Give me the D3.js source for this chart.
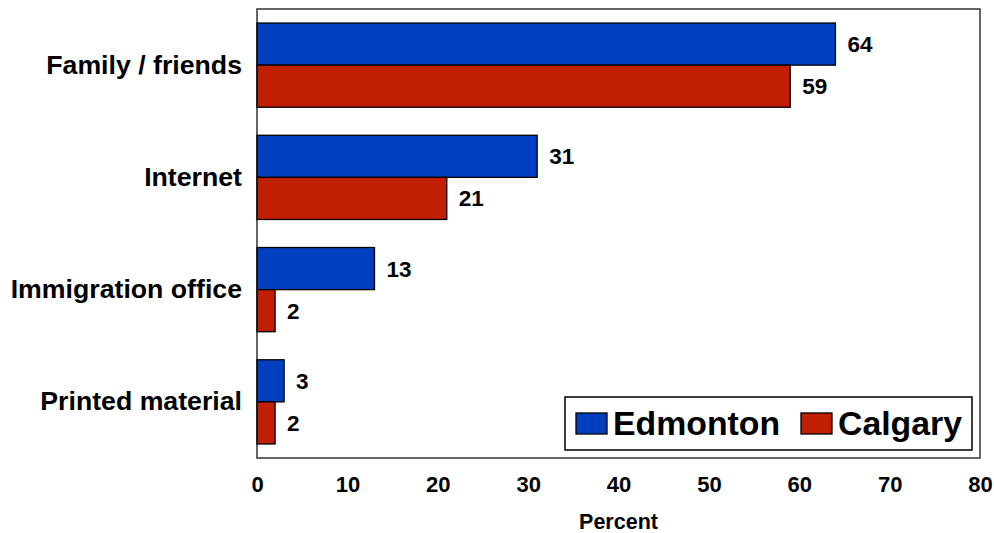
<!DOCTYPE html>
<html><head><meta charset="utf-8">
<script src="https://cdn.jsdelivr.net/npm/d3@7"></script>
<style>body{margin:0;background:#fff}svg{display:block}text{font-family:"Liberation Sans",Arial,sans-serif;font-weight:bold;fill:#000}</style>
</head><body><svg id="c" width="994" height="533"></svg>
<script>
const categories = ["Family / friends","Internet","Immigration office","Printed material"];
const seriesNames = ["Edmonton","Calgary"];
const edmonton = [64,31,13,3];
const calgary = [59,21,2,2];
const xTicks = [0,10,20,30,40,50,60,70,80];
const colors = ["#0040C0","#C02000"];

const svg = d3.select("#c");
const L=257,R=980,T=9,B=458;
const x = d3.scaleLinear().domain([0,80]).range([L,R]);
const y = d3.scaleBand().domain(categories).range([T,B]).paddingInner(0.25).paddingOuter(0.125);
const ys = d3.scaleBand().domain(seriesNames).range([0,y.bandwidth()]);
const data = [edmonton,calgary];

svg.append("rect").attr("x",L).attr("y",T).attr("width",R-L).attr("height",B-T)
  .attr("fill","none").attr("stroke","#333").attr("stroke-width",1.5);

seriesNames.forEach((s,si)=>{
  const g = svg.append("g");
  g.selectAll("rect").data(categories).join("rect")
    .attr("x",x(0)).attr("y",(c)=>y(c)+ys(s))
    .attr("width",(c,i)=>x(data[si][i])-x(0)).attr("height",ys.bandwidth())
    .attr("fill",colors[si]).attr("stroke","#000").attr("stroke-width",1.3);
  g.selectAll("text").data(categories).join("text")
    .attr("x",(c,i)=>x(data[si][i])+12).attr("y",(c)=>y(c)+ys(s)+ys.bandwidth()/2+8)
    .attr("font-size",22.5).text((c,i)=>data[si][i]);
});

// category labels
svg.append("g").selectAll("text").data(categories).join("text")
  .attr("x",L-15).attr("y",c=>y(c)+y.bandwidth()/2+8.5)
  .attr("text-anchor","end").attr("font-size",26.7).text(c=>c);

// x axis labels
const ax = svg.append("g").attr("transform",`translate(0,${B})`)
  .call(d3.axisBottom(x).tickValues(xTicks).tickSize(0).tickPadding(0));
ax.select(".domain").remove();
ax.selectAll("text").attr("font-size",22).attr("dy",0).attr("y",34)
  .style("font-family","'Liberation Sans',Arial,sans-serif").style("font-weight","bold").attr("fill","#000");

svg.append("text").attr("x",(L+R)/2).attr("y",529).attr("text-anchor","middle")
  .attr("font-size",21.5).text("Percent");

// legend
const lg = svg.append("g");
lg.append("rect").attr("x",565).attr("y",397).attr("width",407).attr("height",53)
  .attr("fill","#fff").attr("stroke","#000").attr("stroke-width",1.5);
const legX=[576,801];
seriesNames.forEach((s,si)=>{
  lg.append("rect").attr("x",legX[si]).attr("y",413).attr("width",31).attr("height",21)
    .attr("fill",colors[si]).attr("stroke","#000").attr("stroke-width",1.3);
  lg.append("text").attr("x",legX[si]+37).attr("y",435).attr("font-size",33.8).text(s);
});
</script></body></html>
